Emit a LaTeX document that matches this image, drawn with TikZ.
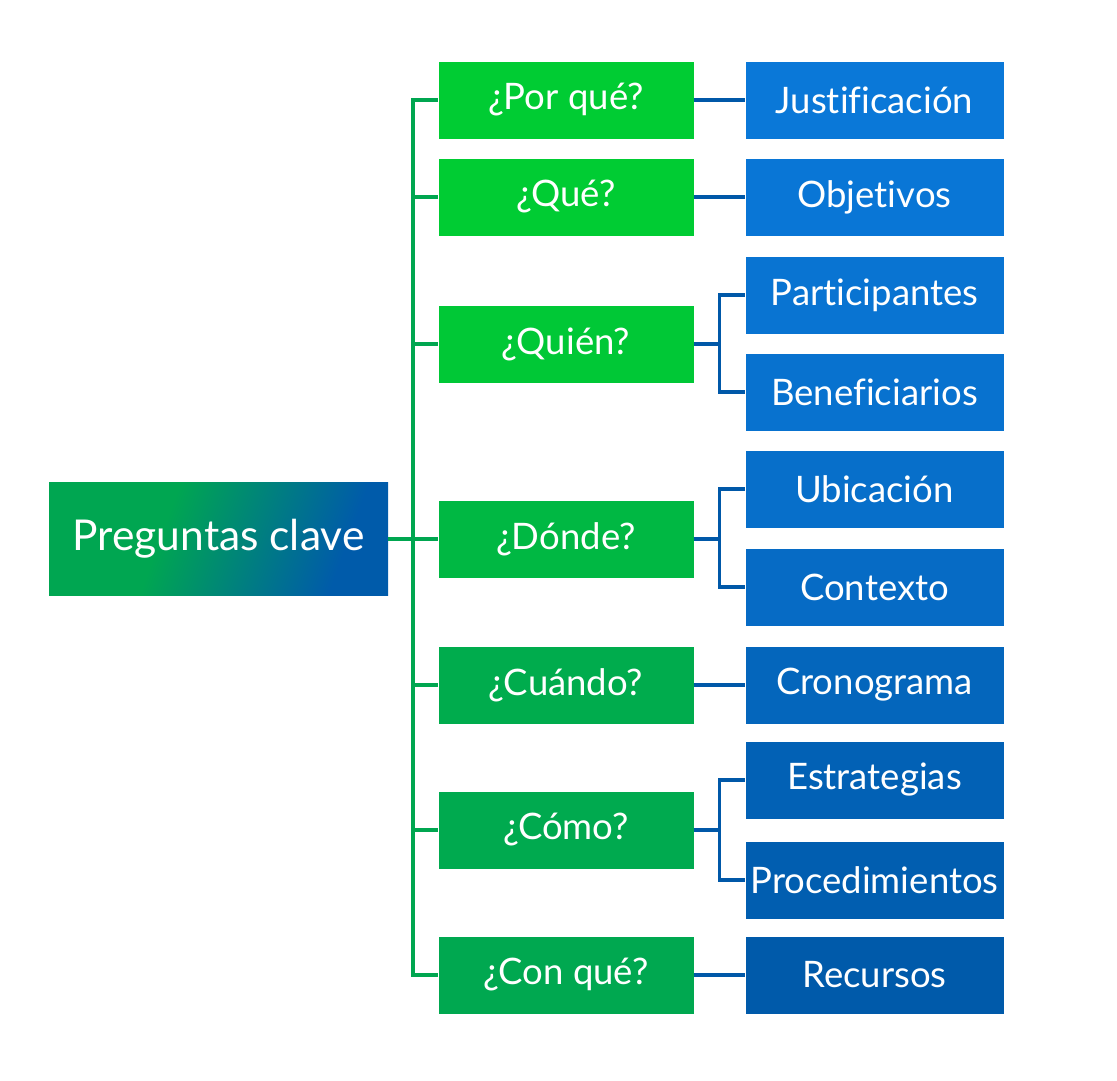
\documentclass[tikz,border=0pt]{standalone}
\usepackage{fontspec}
\setmainfont{Lato}[Ligatures={NoCommon}]
\usepackage{tikz}
\usetikzlibrary{positioning}

\definecolor{gtop}{HTML}{00CC33}
\definecolor{gbot}{HTML}{00A850}
\definecolor{btop}{HTML}{0A78D8}
\definecolor{bbot}{HTML}{005AAA}
\definecolor{linegreen}{HTML}{00A650}
\definecolor{lineblue}{HTML}{0058A8}
\definecolor{rootgreen}{HTML}{00A651}
\definecolor{rootblue}{HTML}{005BAA}

\pgfdeclarehorizontalshading{rootshade}{100bp}{color(0bp)=(rootgreen); color(40bp)=(rootgreen); color(72bp)=(rootblue); color(100bp)=(rootblue)}

\tikzset{
  box/.style={minimum height=77pt, inner sep=0pt, text=white, font=\fontsize{36.5}{42}\selectfont},
  quest/.style={box, minimum width=255pt},
  answer/.style={box, minimum width=258pt},
  trunk/.style={draw=linegreen, line width=3.5pt},
  branch/.style={draw=lineblue, line width=3.5pt}
}

\begin{document}
\begin{tikzpicture}[x=1pt,y=-1pt]
      \useasboundingbox (0,0) rectangle (1117,1080);

      \node[box, minimum width=339pt, minimum height=113pt, shading=rootshade, shading angle=-20,
            font=\fontsize{42.5}{48}\selectfont] (root) at (218.5,539) {Preguntas clave};

      \node[quest, fill=gtop] (porque) at (566,100) {¿Por qué?};
      \node[quest, fill=gtop] (que) at (566,197) {¿Qué?};
      \node[quest, fill=gtop!90!gbot] (quien) at (566,344) {¿Quién?};
      \node[quest, fill=gtop!45!gbot] (donde) at (566,539) {¿Dónde?};
      \node[quest, fill=gtop!10!gbot] (cuando) at (566,685) {¿Cuándo?};
      \node[quest, fill=gtop!5!gbot] (como) at (566,830) {¿Cómo?};
      \node[quest, fill=gbot] (conque) at (566,975) {¿Con qué?};

      \node[answer, fill=btop] (justif) at (874.5,100) {Justificación};
      \node[answer, fill=btop!95!bbot] (objet) at (874.5,197) {Objetivos};
      \node[answer, fill=btop!88!bbot] (partic) at (874.5,295) {Participantes};
      \node[answer, fill=btop!80!bbot] (benef) at (874.5,392) {Beneficiarios};
      \node[answer, fill=btop!70!bbot] (ubic) at (874.5,489) {Ubicación};
      \node[answer, fill=btop!58!bbot] (contex) at (874.5,587) {Contexto};
      \node[answer, fill=btop!40!bbot] (crono) at (874.5,685) {Cronograma};
      \node[answer, fill=btop!25!bbot] (estrat) at (874.5,780) {Estrategias};
      \node[answer, fill=btop!12!bbot] (proced) at (874.5,880) {Procedimientos};
      \node[answer, fill=bbot] (recur) at (874.5,975) {Recursos};

      % green tree
      \foreach \q in {porque,que,quien,donde,cuando,como,conque}
        \draw[trunk] (root.east) -- ++(25,0) |- (\q.west);

      % blue branches
      \draw[branch] (porque) -- (justif);
      \draw[branch] (que) -- (objet);
      \draw[branch] (cuando) -- (crono);
      \draw[branch] (conque) -- (recur);
      \foreach \q/\a/\b in {quien/partic/benef, donde/ubic/contex, como/estrat/proced} {
        \draw[branch] (\q.east) -- ++(26,0) |- (\a.west);
        \draw[branch] (\q.east) -- ++(26,0) |- (\b.west);
      }
    \end{tikzpicture}
\end{document}
